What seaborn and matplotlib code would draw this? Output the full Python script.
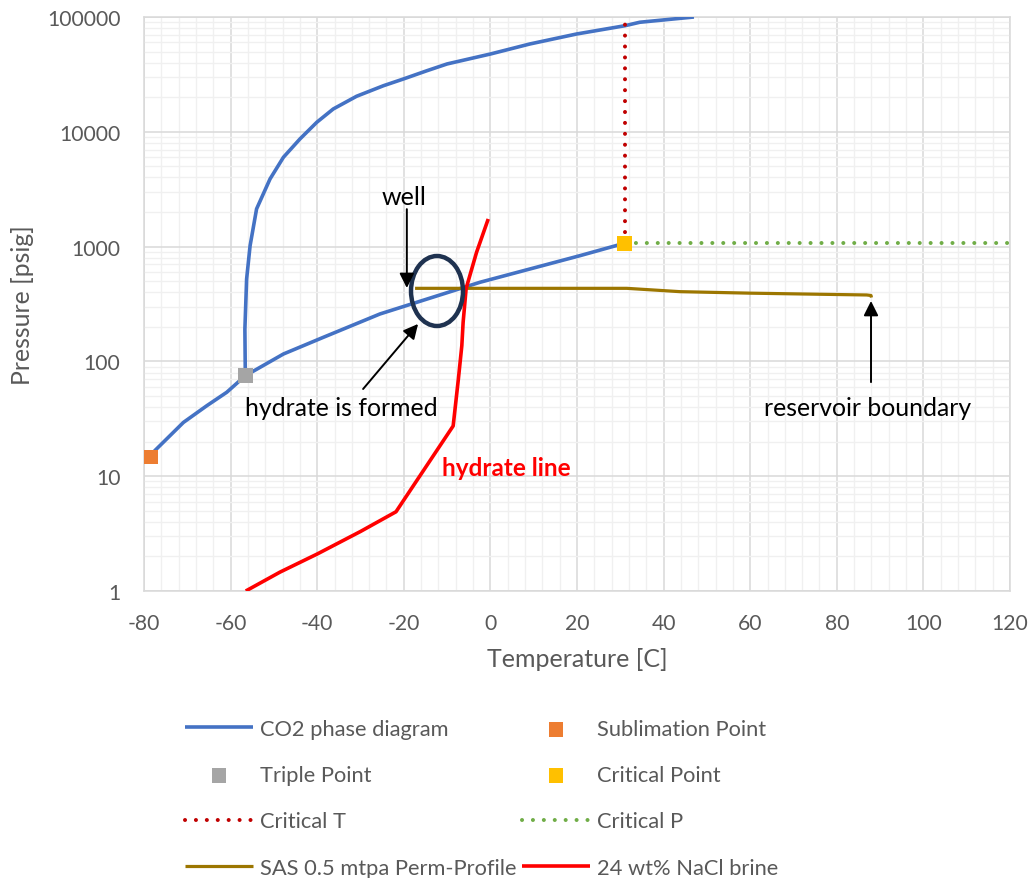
import numpy as np
import pandas as pd
import matplotlib
matplotlib.use("Agg")
import matplotlib.pyplot as plt
import seaborn as sns
from matplotlib.patches import Ellipse
from matplotlib.ticker import MultipleLocator, LogLocator, FixedLocator, FuncFormatter, NullFormatter

# ---------------- data ----------------
sub_T = [-78.5, -77.5, -70.9, -65.5, -60.9, -56.6]
sub_P = [14.7, 16.7, 29.4, 41.1, 53.8, 75]

melt_T = [-56.6, -56.7, -56.3, -55.5, -54.0, -50.9, -47.8, -44.0, -40.1, -36.3, -30.9, -24.7,
          -20.1, -14.7, -10.0, 0.0, 9.1, 19.9, 31.1, 34.5, 47.0]
melt_P = [75, 191, 522, 1018, 2130, 3880, 6000, 8650, 12100, 15800, 20400, 25200,
          28840, 34000, 39000, 47600, 58200, 71100, 84000, 90000, 100000]

vap_T = [-56.6, -47.8, -38.6, -25.5, -2.4, 20.7, 31.0]
vap_P = [75, 116, 162, 259, 489, 834, 1070]

sublimation_pt = (-78.5, 14.7)
triple_pt = (-56.6, 75)
critical_pt = (31.0, 1070)

critT_T = [31.0, 31.0]
critT_P = [1070, 87000]
critP_T = [31.0, 125.0]
critP_P = [1070, 1070]

sas_T = [-17.4, 31.5, 43.8, 60.0, 75.0, 86.9, 87.9, 88.0]
sas_P = [433, 433, 405, 393, 385, 379, 375, 360]

brine_T = [-56.5, -48.6, -40.0, -30.0, -21.8, -8.6, -7.4, -6.6, -6.3, -5.6, -3.2, -0.5]
brine_P = [1.0, 1.46, 2.1, 3.3, 4.9, 27.4, 70, 137, 219, 433, 891, 1740]

x_ticks = [-80, -60, -40, -20, 0, 20, 40, 60, 80, 100, 120]
y_ticks = [1, 10, 100, 1000, 10000, 100000]

# ---------------- style ----------------
sns.set_theme(style="white")
plt.rcParams['font.family'] = ['Lato', 'DejaVu Sans']
plt.rcParams['axes.unicode_minus'] = False
GRAY = '#595959'

fig = plt.figure(figsize=(10.33, 8.79), dpi=100)
ax = fig.add_axes([144/1033, 1-592/879, 866/1033, 574/879])
ax.set_yscale('log')

def line(T, P, color, lw, label=None, ls='-', z=3):
    df = pd.DataFrame({'T': T, 'P': P})
    sns.lineplot(data=df, x='T', y='P', sort=False, estimator=None, color=color,
                 lw=lw, label=label, ax=ax, zorder=z)
    ln = ax.lines[-1]
    if ls != '-':
        ln.set_linestyle(ls)
        ln.set_dash_capstyle('round')
    ln.set_solid_capstyle('butt')
    ln.set_solid_joinstyle('round')
    return ln

h_co2 = line(melt_T, melt_P, '#4472C4', 2.6, 'CO2 phase diagram')
line(sub_T, sub_P, '#4472C4', 2.6)
line(vap_T, vap_P, '#4472C4', 2.6)
h_ct = line(critT_T, critT_P, '#C00000', 2.9, 'Critical T', ls=(0, (0.01, 2.7)))
h_cp = line(critP_T, critP_P, '#70AD47', 2.9, 'Critical P', ls=(0, (0.01, 2.7)))
h_sas = line(sas_T, sas_P, '#9C7600', 2.3, 'SAS 0.5 mtpa Perm-Profile')
h_br = line(brine_T, brine_P, '#FF0000', 2.6, '24 wt% NaCl brine')

def pt(p, color, label):
    df = pd.DataFrame({'T': [p[0]], 'P': [p[1]]})
    sns.scatterplot(data=df, x='T', y='P', marker='s', s=110, color=color,
                    edgecolor='none', linewidth=0, ax=ax, zorder=5, label=label)
    return ax.collections[-1]

h_sub = pt(sublimation_pt, '#ED7D31', 'Sublimation Point')
h_tri = pt(triple_pt, '#A5A5A5', 'Triple Point')
h_cri = pt(critical_pt, '#FFC000', 'Critical Point')

# axes
ax.set_xlim(-80, 120)
ax.set_ylim(1, 100000)
ax.xaxis.set_major_locator(FixedLocator(x_ticks))
ax.xaxis.set_minor_locator(MultipleLocator(4))
ax.xaxis.set_major_formatter(FuncFormatter(lambda v, p: f"{int(round(v))}"))
ax.yaxis.set_major_locator(FixedLocator(y_ticks))
ax.yaxis.set_minor_locator(LogLocator(base=10, subs=np.arange(2, 10), numticks=20))
ax.yaxis.set_major_formatter(FuncFormatter(lambda v, p: f"{int(round(v))}"))
ax.yaxis.set_minor_formatter(NullFormatter())
ax.grid(which='major', color='#d9d9d9', lw=1.1, zorder=0)
ax.grid(which='minor', color='#f0f0f0', lw=1.0, zorder=0)
ax.set_axisbelow(True)
for s in ax.spines.values():
    s.set_color('#d9d9d9')
    s.set_linewidth(1.1)
ax.tick_params(which='both', length=0, labelsize=15.2, labelcolor=GRAY)
ax.tick_params(axis='y', pad=17)
ax.tick_params(axis='x', pad=16)
ax.set_xlabel('Temperature [C]', fontsize=18, color=GRAY, labelpad=10)
ax.set_ylabel('Pressure [psig]', fontsize=17.8, color=GRAY, labelpad=9)

# annotations
ell = Ellipse(((437-144)/866, 1-(292-18)/574), 52/866, 70/574, transform=ax.transAxes,
              fill=False, edgecolor='#1F3250', lw=3.2, zorder=6)
ax.add_patch(ell)
ap = dict(arrowstyle='-|>', color='black', lw=1.4, mutation_scale=22, shrinkA=0, shrinkB=0)
ax.annotate('', xy=(-19.3, 436), xytext=(-19.3, 2120), arrowprops=ap, zorder=7)
ax.text(-20, 2750, 'well', ha='center', va='center', fontsize=18, color='black')
ax.annotate('', xy=(-16.7, 212), xytext=(-29.4, 57.5), arrowprops=ap, zorder=7)
ax.text(-34.5, 40, 'hydrate is formed', ha='center', va='center', fontsize=17.8, color='black')
ax.annotate('', xy=(87.9, 336), xytext=(87.9, 66), arrowprops=ap, zorder=7)
ax.text(87.2, 40, 'reservoir boundary', ha='center', va='center', fontsize=17.8, color='black')
ax.text(3.6, 11.8, 'hydrate line', ha='center', va='center', fontsize=17.5, color='#FF0000', fontweight='bold')

# legend
if ax.get_legend():
    ax.get_legend().remove()
handles = [h_co2, h_tri, h_ct, h_sas, h_sub, h_cri, h_cp, h_br]
labels = ['CO2 phase diagram', 'Triple Point', 'Critical T', 'SAS 0.5 mtpa Perm-Profile',
          'Sublimation Point', 'Critical Point', 'Critical P', '24 wt% NaCl brine']
leg = fig.legend(handles, labels, ncol=2, loc='upper left', bbox_to_anchor=(185/1033, 1-720/879),
                 frameon=False, fontsize=15.75, handlelength=3.1, handletextpad=0.32,
                 labelspacing=1.2, columnspacing=0.27, borderpad=0, borderaxespad=0)
for t in leg.get_texts():
    t.set_color(GRAY)

fig.savefig('out.png', dpi=100)
